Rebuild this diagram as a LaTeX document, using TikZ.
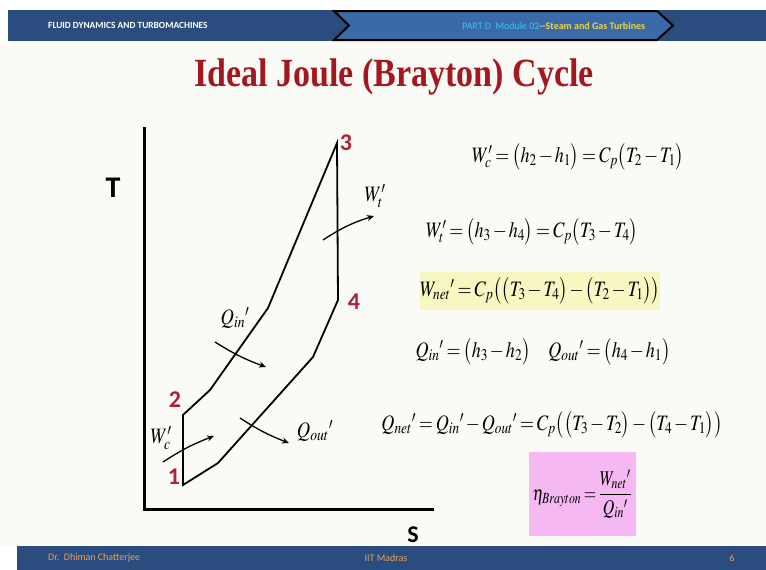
\documentclass[tikz,border=0pt]{standalone}
\usepackage{mathptmx}
\usepackage{fontspec}
\setmainfont{Liberation Serif}
\newfontfamily\hdrfont{Carlito}
\newfontfamily\lblfont{Carlito}
\usetikzlibrary{arrows.meta}
\definecolor{bgc}{HTML}{FAFAF7}
\definecolor{hdrblue}{HTML}{2B4C7E}
\definecolor{chevblue}{HTML}{3A6BA8}
\definecolor{cyantxt}{HTML}{3FC0F0}
\definecolor{yeltxt}{HTML}{F0D048}
\definecolor{foottxt}{HTML}{E3A35B}
\definecolor{titlered}{HTML}{A3181F}
\definecolor{numred}{HTML}{B0203A}
\definecolor{hlyellow}{HTML}{F7F7C2}
\definecolor{hlpink}{HTML}{F5B8F2}
\newcommand{\eqbox}[2][0.84]{\scalebox{#1}[1]{$\thickmuskip=3mu\medmuskip=2mu #2$}}
\tikzset{
  hdrtxt/.style={font=\hdrfont\fontsize{10}{11}\selectfont, inner sep=0pt},
  titletxt/.style={font=\bfseries\fontsize{40}{44}\selectfont, text=titlered, inner sep=0pt},
  axisline/.style={line width=3pt, line cap=rect},
  cycline/.style={line width=1.8pt, line join=miter},
  numlbl/.style={font=\lblfont\bfseries\fontsize{24}{26}\selectfont, text=numred, inner sep=0pt},
  axlbl/.style={font=\lblfont\bfseries\fontsize{30}{32}\selectfont, inner sep=0pt},
  flow/.style={line width=1.3pt, -{Stealth[length=7pt,width=6pt]}},
  flowlbl/.style={font=\fontsize{22}{24}\selectfont, inner sep=0pt},
  eq/.style={font=\fontsize{22}{26}\selectfont, inner sep=0pt},
}
\begin{document}
\begin{tikzpicture}[x=1pt,y=-1pt]
\useasboundingbox (0,0) rectangle (766,570);
\fill[white] (0,0) rectangle (766,570);
\fill[bgc] (0,41) rectangle (766,546);
% header
\fill[hdrblue] (8,10) rectangle (766,41);
\draw[line width=2pt, fill=chevblue, line join=miter] (334,11) -- (657,11) -- (673,25.5) -- (657,40) -- (334,40) -- (349,25.5) -- cycle;
\node[hdrtxt, font=\hdrfont\bfseries\fontsize{9.4}{11}\selectfont, text=white, anchor=west] (hdl) at (48,25.5) {FLUID DYNAMICS AND TURBOMACHINES};
\node[hdrtxt, anchor=west] (hdr) at (462,26) {\textcolor{cyantxt}{PART D\ \ Module 02}\textcolor{yeltxt}{\textbf{--Steam and Gas Turbines}}};
% footer
\fill[hdrblue] (17,546) rectangle (766,570);
\node[hdrtxt, text=foottxt, anchor=west] (f1) at (48,558) {Dr.\ \ Dhiman Chatterjee};
\node[hdrtxt, text=foottxt] (f2) at (386,558) {IIT Madras};
\node[hdrtxt, text=foottxt] (f3) at (732,558) {6};
% title
\node[titletxt] (title) at (394,77) {\scalebox{0.85}[1]{Ideal Joule (Brayton) Cycle}};
% axes
\coordinate (ytop) at (144,128);
\coordinate (orig) at (144,509);
\coordinate (xend) at (432,509);
\draw[axisline] (ytop) -- (orig) -- (xend);
\node[axlbl] (T) at (113,188) {T};
\node[font=\lblfont\bfseries\fontsize{24}{26}\selectfont, inner sep=0pt] (S) at (413,535) {S};
% cycle
\coordinate (p1) at (183,485);
\coordinate (p2) at (183,415);
\coordinate (a) at (210,390);
\coordinate (b) at (268,308);
\coordinate (p3) at (337,143);
\coordinate (p4) at (338,300);
\coordinate (c) at (313,357);
\coordinate (d) at (218,463);
\draw[cycline] (p1) -- (p2) -- (a) -- (b) -- (p3) -- (p4) -- (c) -- (d) -- cycle;
\node[numlbl] (n1) at (174,477) {1};
\node[numlbl] (n2) at (175,400) {2};
\node[numlbl] (n3) at (346,143) {3};
\node[numlbl] (n4) at (354,302) {4};
% flows
\coordinate (wt0) at (323,240); \coordinate (wt1) at (374,216);
\coordinate (qi0) at (215,342); \coordinate (qi1) at (266,367);
\coordinate (wc0) at (163,462); \coordinate (wc1) at (214,436);
\coordinate (qo0) at (240,418); \coordinate (qo1) at (289,443);
\draw[flow] (wt0) to[bend left=8] (wt1);
\draw[flow] (qi0) to[bend right=6] (qi1);
\draw[flow] (wc0) to[bend left=6] (wc1);
\draw[flow] (qo0) to[bend right=6] (qo1);
\node[flowlbl] (lwt) at (375,196) {\eqbox{W'_t}};
\node[flowlbl] (lqi) at (235,318) {\eqbox{Q_{in}{}'}};
\node[flowlbl] (lwc) at (161,438) {\eqbox{W'_c}};
\node[flowlbl] (lqo) at (315,431) {\eqbox{Q_{out}{}'}};
% equations
\node[eq] (e1) at (578,157) {\eqbox[0.82]{W'_c=\big(h_2-h_1\big)=C_p\big(T_2-T_1\big)}};
\node[eq] (e2) at (532,232) {\eqbox[0.82]{W'_t=\big(h_3-h_4\big)=C_p\big(T_3-T_4\big)}};
\fill[hlyellow] (420,272) rectangle (660,310);
\node[eq] (e3) at (540,291) {\eqbox[0.82]{W_{net}{}'=C_p\big(\big(T_3-T_4\big)-\big(T_2-T_1\big)\big)}};
\node[eq] (e4) at (543,352) {\eqbox[0.82]{Q_{in}{}'=\big(h_3-h_2\big)\quad Q_{out}{}'=\big(h_4-h_1\big)}};
\node[eq] (e5) at (552,425) {\eqbox[0.82]{Q_{net}{}'=Q_{in}{}'-Q_{out}{}'=C_p\big(\big(T_3-T_2\big)-\big(T_4-T_1\big)\big)}};
\fill[hlpink] (529,452) rectangle (636,536);
\node[eq, font=\fontsize{21}{24}\selectfont] (e6) at (582,494) {\eqbox[0.76]{\displaystyle\eta_{Brayton}=\frac{W_{net}{}'}{Q_{in}{}'}}};
\end{tikzpicture}
\end{document}
